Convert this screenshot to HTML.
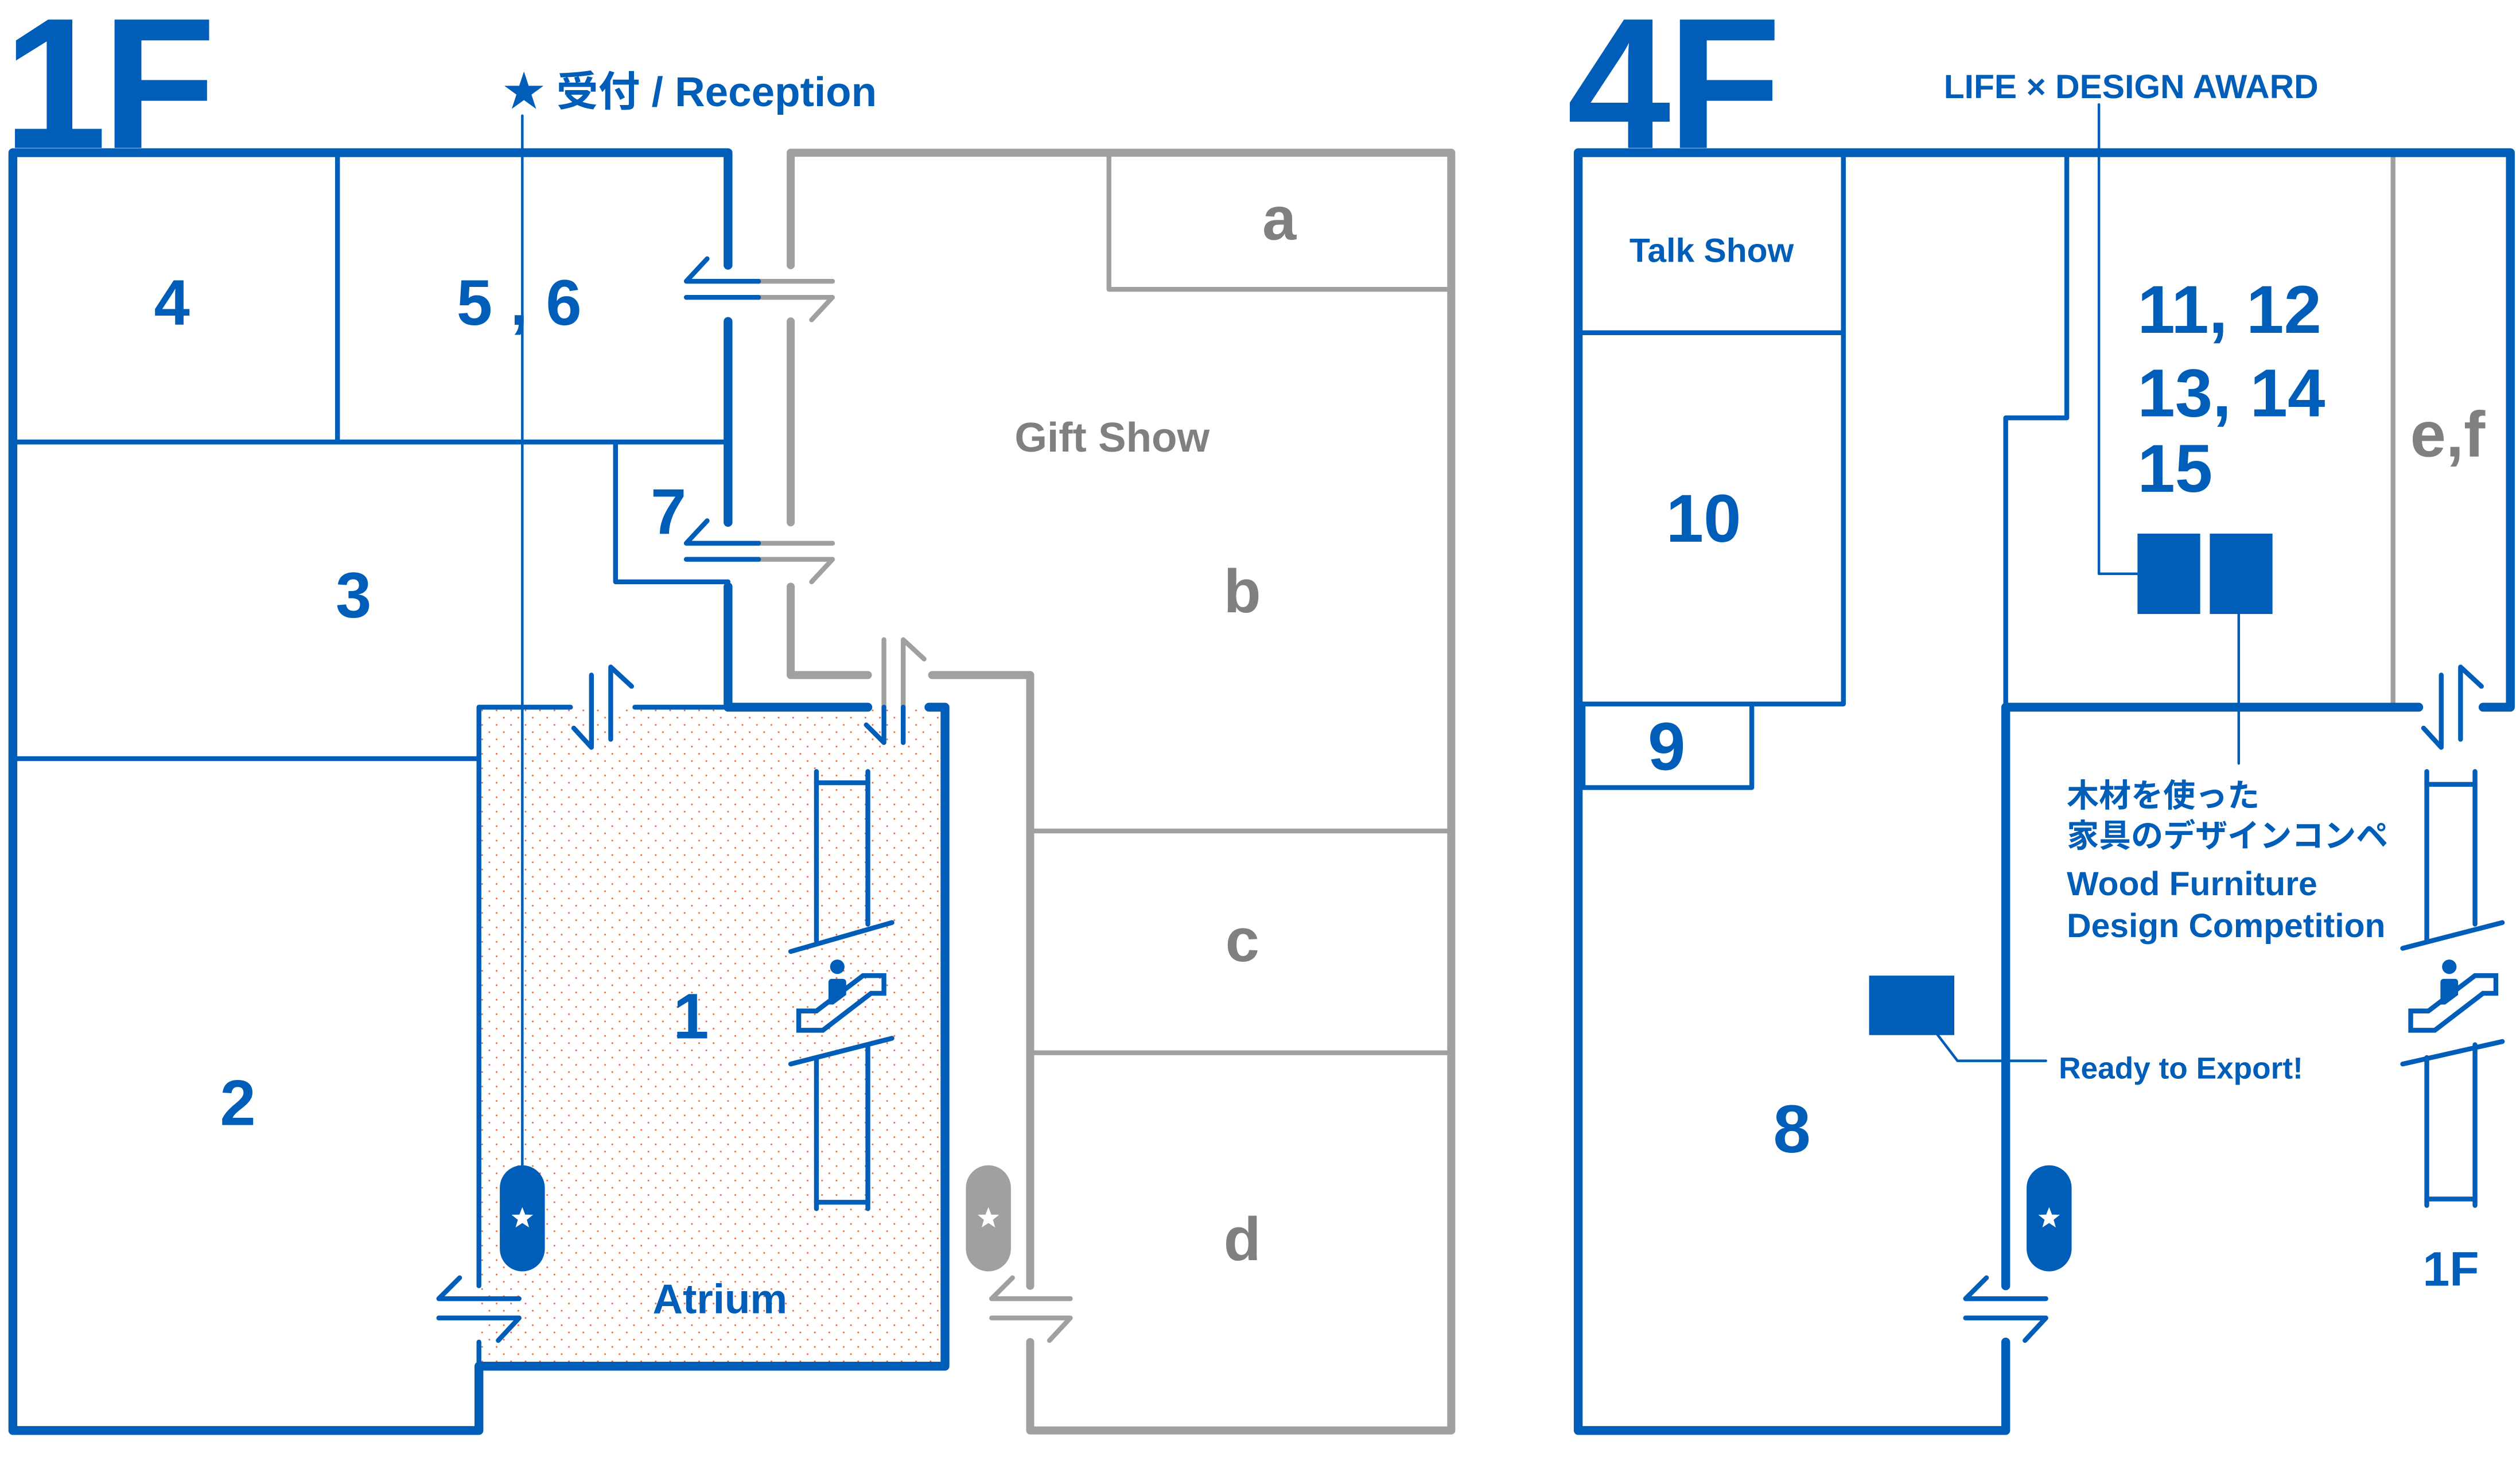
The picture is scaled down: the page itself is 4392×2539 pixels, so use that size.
<!DOCTYPE html>
<html><head><meta charset="utf-8"><style>
html,body{margin:0;padding:0;background:#fff;}
svg{display:block;}
text{font-family:"Liberation Sans","Noto Sans CJK JP",sans-serif;font-weight:bold;}
</style></head><body>
<svg width="4392" height="2539" viewBox="0 0 1568 906.5" preserveAspectRatio="none" xmlns="http://www.w3.org/2000/svg">
<defs>
<pattern id="dots" x="298" y="440" width="9" height="9" patternUnits="userSpaceOnUse">
<circle cx="2" cy="2" r="0.55" fill="#F26B3A"/><circle cx="6.5" cy="6.5" r="0.55" fill="#F26B3A"/>
</pattern>
<g id="esc">
<path d="M0,31 L11,31 L40,9 L53,9 L53,20 L45,20 L15,43 L0,43 Z" fill="none" stroke="#005EB8" stroke-width="3"/>
<circle cx="24" cy="3.5" r="4.5" fill="#005EB8"/>
<path d="M18.5,13 a2,2 0 0 1 2,-2 h7 a2,2 0 0 1 2,2 v8 l-8,6 h-3 z" fill="#005EB8"/>
</g>
<g id="star"><path d="M0,-7 L1.8,-2.3 L6.7,-2.2 L2.8,0.9 L4.2,5.7 L0,2.9 L-4.2,5.7 L-2.8,0.9 L-6.7,-2.2 L-1.8,-2.3 Z" fill="#fff"/></g>
</defs>
<rect width="1568" height="906.5" fill="#fff"/>

<!-- ============ 1F ============ -->
<rect x="298" y="440" width="290" height="410" fill="url(#dots)"/>
<text x="2" y="92" font-size="116" fill="#005EB8" letter-spacing="-3">1F</text>

<g stroke="#A0A0A0" fill="none" stroke-linecap="round" stroke-linejoin="round">
<g stroke-width="5">
<path d="M492,165 V95 H903 V890 H641 V835"/>
<path d="M641,800 V420 H580"/>
<path d="M492,200 V325"/>
<path d="M492,365 V420 H540"/>
</g>
<g stroke-width="3">
<path d="M690,95 V180 H903"/>
<path d="M641,517 H903"/>
<path d="M641,655 H903"/>
</g>
<g stroke-width="3">
<path d="M472,175 H518"/><path d="M472,185 H518 L505,199"/>
<path d="M472,338 H518"/><path d="M472,348 H518 L505,362"/>
<path d="M550,398 V440"/><path d="M562,440 V398 L575,410"/>
<path d="M617,808 H666"/><path d="M617,820 H666 L653,834"/>
<path d="M617,808 L630,795"/>
</g>
</g>

<g stroke="#005EB8" fill="none" stroke-linecap="round" stroke-linejoin="round">
<g stroke-width="5.5">
<path d="M453,165 V95 H8 V890 H298 V850 H588 V440 H578"/>
<path d="M453,200 V325"/>
<path d="M453,365 V440 H540"/>
</g>
<g stroke-width="3">
<path d="M8,275 H453"/>
<path d="M210,95 V275"/>
<path d="M8,472 H298"/>
<path d="M383,275 V362 H453"/>
<path d="M298,800 V440 H355"/>
<path d="M395,440 H453"/>
<path d="M298,835 V850"/>
<path d="M472,175 H427 L440,161"/><path d="M472,185 H427"/>
<path d="M472,338 H427 L440,324"/><path d="M472,348 H427"/>
<path d="M368,420 V465 L357,453"/><path d="M380,460 V415 L393,427"/>
<path d="M550,440 V462 L539,451"/><path d="M562,440 V462"/>
<path d="M323,808 H273 L286,795"/><path d="M273,820 H323 L310,834"/>
<path d="M508,480 V585"/><path d="M540,480 V575"/><path d="M508,487 H540"/>
<path d="M492,592 L555,574"/>
<path d="M492,662 L555,646"/>
<path d="M508,658 V752"/><path d="M540,650 V752"/><path d="M508,748 H540"/>
</g>
<path d="M325,72 V730" stroke-width="1.6"/>
</g>
<use href="#esc" x="497" y="598"/>

<rect x="311" y="725" width="28" height="66" rx="14" fill="#005EB8"/>
<use href="#star" x="325" y="758"/>
<rect x="601" y="725" width="28" height="66" rx="14" fill="#A0A0A0"/>
<use href="#star" x="615" y="758"/>

<text x="313" y="66" font-size="26" fill="#005EB8">★ 受付 / Reception</text>
<g fill="#005EB8" text-anchor="middle">
<text x="107" y="202" font-size="40">4</text>
<text x="323" y="202" font-size="40">5 , 6</text>
<text x="220" y="384" font-size="40">3</text>
<text x="416" y="332" font-size="40">7</text>
<text x="148" y="700" font-size="40">2</text>
<text x="430" y="646" font-size="40">1</text>
<text x="448" y="817" font-size="26">Atrium</text>
</g>
<g fill="#808080" text-anchor="middle">
<text x="796" y="149" font-size="38">a</text>
<text x="692" y="281" font-size="26">Gift Show</text>
<text x="773" y="381" font-size="38">b</text>
<text x="773" y="598" font-size="38">c</text>
<text x="773" y="784" font-size="38">d</text>
</g>

<!-- ============ 4F ============ -->
<text x="975" y="92" font-size="116" fill="#005EB8" letter-spacing="-2">4F</text>
<path d="M1489,95 V440" stroke="#A0A0A0" stroke-width="3"/>
<g stroke="#005EB8" fill="none" stroke-linecap="round" stroke-linejoin="round">
<g stroke-width="5.5">
<path d="M1248,835 V890 H982 V95 H1562 V440 H1545"/>
<path d="M1505,440 H1248 V800"/>
</g>
<g stroke-width="3">
<path d="M1147,95 V438 H985"/>
<path d="M985,207 H1147"/>
<path d="M985,438 V490 H1090 V438"/>
<path d="M1286,95 V260 H1248 V440"/>
<path d="M1519,420 V465 L1508,453"/><path d="M1531,460 V415 L1544,427"/>
<path d="M1273,808 H1223 L1236,795"/><path d="M1223,820 H1273 L1260,834"/>
<path d="M1510,480 V585"/><path d="M1540,480 V575"/><path d="M1510,488 H1540"/>
<path d="M1495,590 L1557,574"/>
<path d="M1495,662 L1557,648"/>
<path d="M1510,658 V750"/><path d="M1540,650 V750"/><path d="M1510,746 H1540"/>
</g>
<g stroke-width="1.6">
<path d="M1306,65 V357 H1330"/>
<path d="M1393,380 V475"/>
<path d="M1205,643 L1218,660 H1273"/>
</g>
</g>
<rect x="1330" y="332" width="39" height="50" fill="#005EB8"/>
<rect x="1375" y="332" width="39" height="50" fill="#005EB8"/>
<rect x="1163" y="607" width="53" height="37" fill="#005EB8"/>
<use href="#esc" x="1500" y="598"/>
<rect x="1261" y="725" width="28" height="66" rx="14" fill="#005EB8"/>
<use href="#star" x="1275" y="758"/>

<g fill="#005EB8">
<text x="1326" y="61" font-size="21" text-anchor="middle">LIFE × DESIGN AWARD</text>
<text x="1065" y="163" font-size="21" text-anchor="middle">Talk Show</text>
<text x="1060" y="337" font-size="42" text-anchor="middle">10</text>
<text x="1037" y="479" font-size="42" text-anchor="middle">9</text>
<text x="1115" y="717" font-size="42" text-anchor="middle">8</text>
<text x="1330" y="207" font-size="42">11, 12</text>
<text x="1330" y="259" font-size="42">13, 14</text>
<text x="1330" y="306" font-size="42">15</text>
<text x="1286" y="502" font-size="20">木材を使った</text>
<text x="1286" y="527" font-size="20">家具のデザインコンペ</text>
<text x="1286" y="557" font-size="21">Wood Furniture</text>
<text x="1286" y="583" font-size="21">Design Competition</text>
<text x="1281" y="671" font-size="19">Ready to Export!</text>
<text x="1525" y="800" font-size="30" text-anchor="middle">1F</text>
</g>
<text x="1523" y="284" font-size="40" fill="#808080" text-anchor="middle">e,f</text>
</svg>
</body></html>
